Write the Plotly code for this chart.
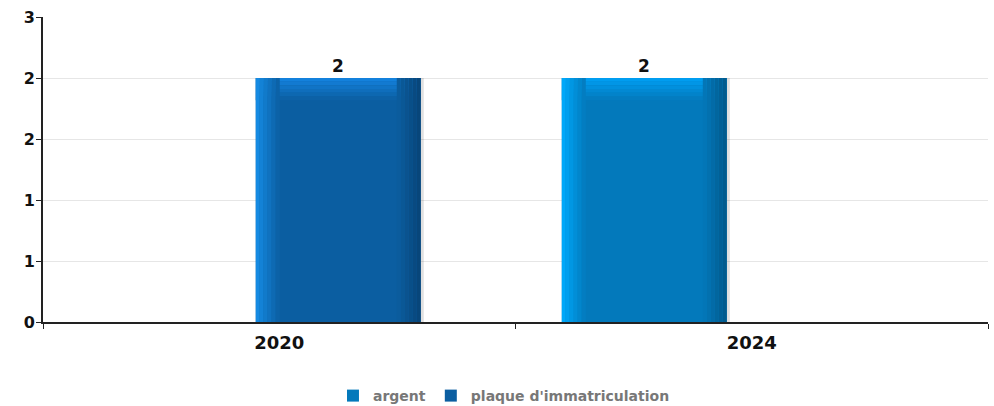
import plotly.graph_objects as go

years = ["2020", "2024"]
argent = [None, 2]
plaque = [2, None]
series_names = ["argent", "plaque d'immatriculation"]
y_tickvals = [0, 0.5, 1, 1.5, 2, 2.5]
y_ticktext = ["0", "1", "1", "2", "2", "3"]

PX_X = 472.5  # px per category
PX_Y = 122.0  # px per y unit
W = 165 / PX_X


def mix(c1, c2, t):
    return "rgb(%d,%d,%d)" % tuple(round(a + (b - a) * t) for a, b in zip(c1, c2))


styles = {
    "argent": dict(main=(3, 121, 187), left=(0, 172, 255), top=(0, 160, 245), right=(2, 88, 138), offset=-0.402),
    "plaque d'immatriculation": dict(main=(11, 94, 161), left=(22, 142, 232), top=(20, 132, 225), right=(8, 68, 118), offset=-0.0497),
}

fig = go.Figure()
annotations = []
for name, vals in zip(series_names, [argent, plaque]):
    s = styles[name]
    main = "rgb(%d,%d,%d)" % s["main"]
    # faint shadow on the right edge
    fig.add_trace(go.Bar(
        x=years, y=vals, width=3 / PX_X, offset=s["offset"] + W,
        showlegend=False, hoverinfo="skip",
        marker=dict(color="rgba(0,0,0,0.12)", line=dict(width=0)),
    ))
    fig.add_trace(go.Bar(
        x=years, y=vals, name=name, width=W, offset=s["offset"],
        marker=dict(color=main, line=dict(width=0)),
        hoverinfo="skip",
    ))
    for i, v in enumerate(vals):
        if v is not None:
            annotations.append(dict(
                x=i + s["offset"] + W / 2, y=v, xref="x", yref="y",
                text="%g" % v, showarrow=False, yanchor="middle", yshift=12,
                font=dict(family="DejaVu Sans", size=17, color="#111", weight="bold"),
            ))
    n = 6
    hpx = 3.7
    for i in range(n):
        t = (i + 0.5) / n
        fig.add_trace(go.Bar(
            x=years, y=[hpx / PX_Y if v is not None else None for v in vals],
            base=[v - (i + 1) * hpx / PX_Y if v is not None else None for v in vals],
            width=W, offset=s["offset"], showlegend=False, hoverinfo="skip",
            marker=dict(color=mix(s["top"], s["main"], t), line=dict(width=0)),
        ))
    wpx = 4
    for i in range(n):
        t = (i + 0.5) / n
        fig.add_trace(go.Bar(
            x=years, y=vals, width=wpx / PX_X, offset=s["offset"] + i * wpx / PX_X,
            showlegend=False, hoverinfo="skip",
            marker=dict(color=mix(s["left"], s["main"], t), line=dict(width=0)),
        ))
    for i in range(n):
        t = (i + 0.5) / n
        fig.add_trace(go.Bar(
            x=years, y=vals, width=wpx / PX_X,
            offset=s["offset"] + W - (i + 1) * wpx / PX_X,
            showlegend=False, hoverinfo="skip",
            marker=dict(color=mix(s["right"], s["main"], t), line=dict(width=0)),
        ))

fig.update_layout(
    width=994, height=406,
    margin=dict(l=43, r=6, t=17, b=84, autoexpand=False),
    paper_bgcolor="white", plot_bgcolor="white",
    barmode="overlay",
    font=dict(family="DejaVu Sans", color="#111"),
    showlegend=True,
    annotations=annotations,
    legend=dict(orientation="h", x=0.4878, xanchor="center",
                yref="container", y=1 - 396 / 406, yanchor="middle",
                font=dict(family="DejaVu Sans", size=14, color="#777", weight="bold"),
                itemsizing="constant", tracegroupgap=0),
    xaxis=dict(
        type="category", showgrid=False, showline=True, linecolor="#222", linewidth=2,
        ticks="outside", tickson="boundaries", ticklen=5, tickcolor="#222",
        tickfont=dict(family="DejaVu Sans", size=18, color="#111", weight="bold"),
        ticklabelstandoff=3,
        fixedrange=True, automargin=False,
    ),
    yaxis=dict(
        range=[0, 2.5], tickvals=y_tickvals, ticktext=y_ticktext,
        showgrid=True, gridcolor="#e6e6e6", gridwidth=1,
        showline=True, linecolor="#222", linewidth=2,
        ticks="outside", ticklen=5, tickcolor="#222", zeroline=False,
        tickfont=dict(family="DejaVu Sans", size=16, color="#111", weight="bold"),
        ticklabelstandoff=-2,
        fixedrange=True, automargin=False,
    ),
)

fig.write_html(
    "out.html",
    config={"displayModeBar": False},
    post_script="document.body.style.margin='0';document.body.style.padding='0';",
)
